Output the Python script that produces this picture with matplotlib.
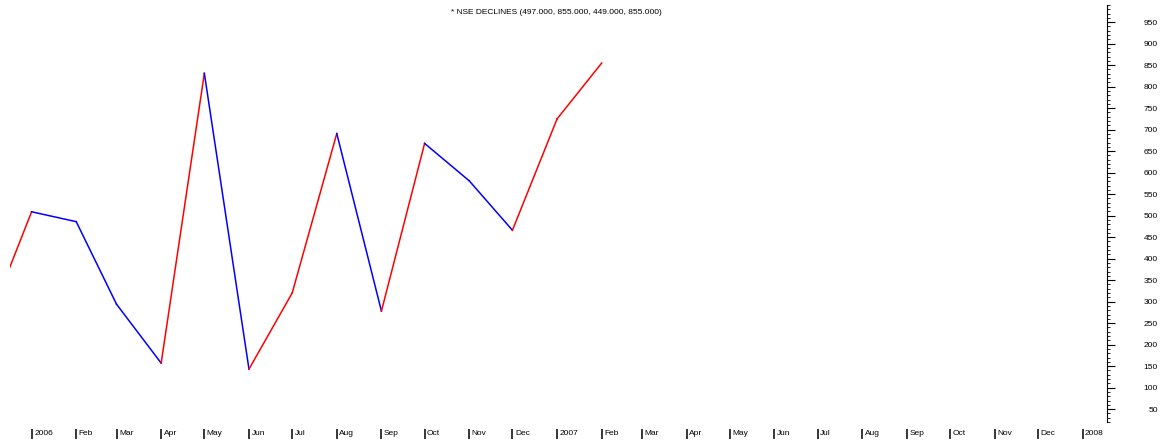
import datetime as dt
import matplotlib
matplotlib.use('Agg')
import matplotlib.pyplot as plt
import matplotlib.transforms as mtransforms
from matplotlib.ticker import MultipleLocator

plt.rcParams['font.family'] = ['Liberation Sans', 'DejaVu Sans']

# monthly values (first one lies left of the visible area)
months = ['2005-12', '2006-01', '2006-02', '2006-03', '2006-04', '2006-05',
          '2006-06', '2006-07', '2006-08', '2006-09', '2006-10', '2006-11',
          '2006-12', '2007-01', '2007-02']
declines = [245, 509, 486, 294, 157, 831, 143, 320, 691, 278, 668, 581,
            466, 725, 855]
month_labels = ['2006', 'Feb', 'Mar', 'Apr', 'May', 'Jun', 'Jul', 'Aug',
                'Sep', 'Oct', 'Nov', 'Dec',
                '2007', 'Feb', 'Mar', 'Apr', 'May', 'Jun', 'Jul', 'Aug',
                'Sep', 'Oct', 'Nov', 'Dec', '2008']
title = '* NSE DECLINES (497.000, 855.000, 449.000, 855.000)'

dates = [dt.datetime.strptime(m, '%Y-%m') for m in months]
tick_dates = [dt.datetime(2006 + i // 12, i % 12 + 1, 1)
              for i in range(len(month_labels))]

fig = plt.figure(figsize=(11.6, 4.4), dpi=100)
ax = fig.add_axes([10 / 1160, 18 / 440, 1097 / 1160, 417 / 440])

# red when rising, blue when falling
for i in range(1, len(dates)):
    col = '#ff0000' if declines[i] >= declines[i - 1] else '#0000ff'
    ax.plot(dates[i - 1:i + 1], declines[i - 1:i + 1], color=col, lw=1.1,
            solid_joinstyle='miter')

ax.set_xlim(dt.datetime(2005, 12, 17), dt.datetime(2008, 1, 18))
ax.set_ylim(20, 990)

for s in ['top', 'left', 'bottom']:
    ax.spines[s].set_visible(False)
ax.spines['bottom'].set_position(('outward', 5))
ax.spines['right'].set_linewidth(0.8)

# x axis: month bars with labels to their right
ax.set_xticks(tick_dates, month_labels)
ax.tick_params(axis='x', direction='out', length=7.5, width=1.1,
               pad=-4.5, labelsize=6)
off = mtransforms.ScaledTranslation(2.5 / 100, 0, fig.dpi_scale_trans)
for lab in ax.get_xticklabels():
    lab.set_ha('left')
    lab.set_va('center')
    lab.set_transform(lab.get_transform() + off)

# y axis on the right
ax.yaxis.tick_right()
ax.yaxis.set_minor_locator(MultipleLocator(10))
ax.set_yticks(list(range(50, 1000, 50)))
ax.tick_params(axis='y', which='major', direction='out', length=5.5,
               width=0.8, pad=31, labelsize=6)
ax.tick_params(axis='y', which='minor', direction='out', length=2.5,
               width=0.6)
for lab in ax.get_yticklabels():
    lab.set_ha('right')

fig.text(556 / 1160, 1 - 13 / 440, title, ha='center', va='center',
         fontsize=6)

fig.savefig('out.png', dpi=100)
